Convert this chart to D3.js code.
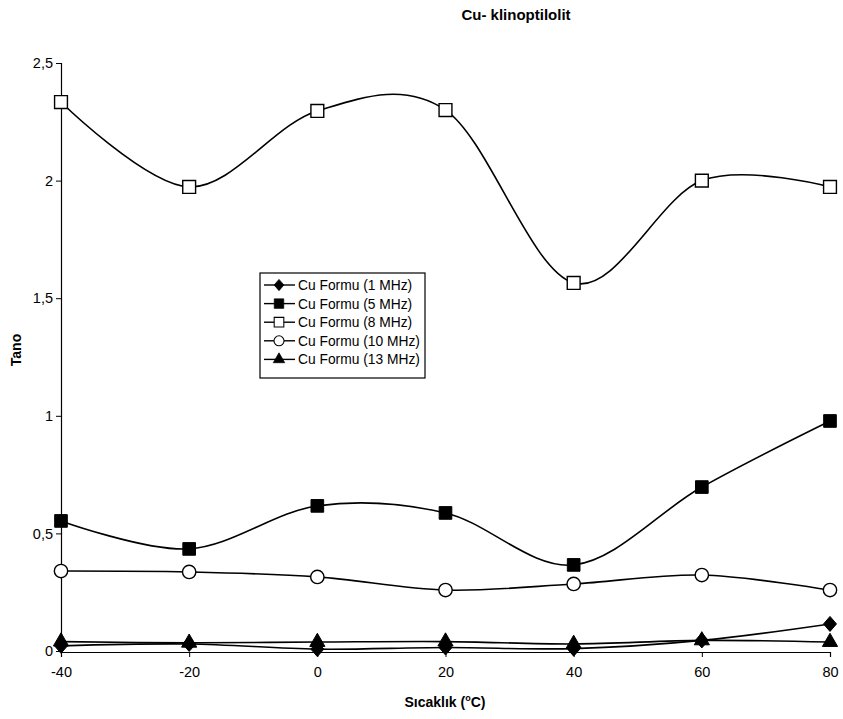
<!DOCTYPE html>
<html>
<head>
<meta charset="utf-8">
<script src="https://cdn.jsdelivr.net/npm/d3@7"></script>
<style>
  html, body { margin: 0; padding: 0; background: #fff; }
  svg { display: block; font-family: "Liberation Sans", Arial, sans-serif; }
</style>
</head>
<body>
<svg id="chart" width="843" height="719"></svg>
<script>
// Temperature steps (°C)
const temperatures = [-40, -20, 0, 20, 40, 60, 80];

// Tan δ values per measuring frequency
const f1MHz  = [0.022, 0.030, 0.008, 0.015, 0.010, 0.045, 0.115];
const f5MHz  = [0.553, 0.434, 0.617, 0.587, 0.366, 0.697, 0.978];
const f8MHz  = [2.334, 1.973, 2.296, 2.300, 1.565, 2.000, 1.973];
const f10MHz = [0.340, 0.336, 0.315, 0.259, 0.285, 0.323, 0.259];
const f13MHz = [0.040, 0.035, 0.038, 0.040, 0.030, 0.045, 0.038];

const seriesNames = ["Cu Formu (1 MHz)", "Cu Formu (5 MHz)", "Cu Formu (8 MHz)", "Cu Formu (10 MHz)", "Cu Formu (13 MHz)"];
const yTicks = [0, 0.5, 1, 1.5, 2, 2.5];
const xTicks = [-40, -20, 0, 20, 40, 60, 80];

const series = [
  { name: seriesNames[0], values: f1MHz,  symbol: "diamond" },
  { name: seriesNames[1], values: f5MHz,  symbol: "squareFilled" },
  { name: seriesNames[2], values: f8MHz,  symbol: "squareOpen" },
  { name: seriesNames[3], values: f10MHz, symbol: "circleOpen" },
  { name: seriesNames[4], values: f13MHz, symbol: "triangle" }
];

const FONT = "Liberation Sans, Arial, sans-serif";
const svg = d3.select("#chart");
const x = d3.scaleLinear().domain([-40, 80]).range([61, 830]);
const y = d3.scaleLinear().domain([0, 2.5]).range([651, 63]);

// Title
svg.append("text")
  .attr("x", 516).attr("y", 20)
  .attr("text-anchor", "middle")
  .attr("font-size", 15).attr("font-weight", "bold")
  .text("Cu- klinoptilolit");

// Axes
const yAxis = d3.axisLeft(y).tickValues(yTicks).tickSize(5).tickPadding(3)
  .tickFormat(d => String(d).replace(".", ","));
const gy = svg.append("g").attr("transform", `translate(${x(-40)},0)`).call(yAxis);
gy.select(".domain").attr("stroke", "#000").attr("stroke-width", 1.2);
gy.selectAll(".tick line").attr("stroke", "#000");
gy.selectAll(".tick text").attr("font-size", 14.5).attr("fill", "#000").attr("font-family", FONT);

const xAxis = d3.axisBottom(x).tickValues(xTicks).tickSize(5).tickPadding(10)
  .tickFormat(d => String(d));
const gx = svg.append("g").attr("transform", `translate(0,${y(0) + 1})`).call(xAxis);
gx.select(".domain").attr("stroke", "#000").attr("stroke-width", 1.2);
gx.selectAll(".tick line").attr("stroke", "#000");
gx.selectAll(".tick text").attr("font-size", 14.5).attr("fill", "#000").attr("font-family", FONT);

// Axis titles
const xt = svg.append("text")
  .attr("x", 445).attr("y", 707)
  .attr("text-anchor", "middle")
  .attr("font-size", 14).attr("font-weight", "bold");
xt.append("tspan").text("Sıcaklık (");
xt.append("tspan").attr("font-size", 9).attr("dy", -6).text("o");
xt.append("tspan").attr("dy", 6).text("C)");

svg.append("text")
  .attr("transform", "translate(21,350) rotate(-90)")
  .attr("text-anchor", "middle")
  .attr("font-size", 14).attr("font-weight", "bold")
  .text("Tano");

// Marker drawing
const diamondPath = "M0,-7.5L6.5,0L0,7.5L-6.5,0Z";
function drawMarker(g, kind, cx, cy, k = 1) {
  let d, fill;
  if (kind === "diamond") { d = diamondPath; fill = "#000"; }
  else if (kind === "squareFilled") { d = d3.symbol().type(d3.symbolSquare).size(160)(); fill = "#000"; }
  else if (kind === "squareOpen") { d = d3.symbol().type(d3.symbolSquare).size(165)(); fill = "#fff"; }
  else if (kind === "circleOpen") { d = d3.symbol().type(d3.symbolCircle).size(140)(); fill = "#fff"; }
  else { d = d3.symbol().type(d3.symbolTriangle).size(100)(); fill = "#000"; }
  g.append("path")
    .attr("d", d)
    .attr("transform", `translate(${cx},${cy}) scale(${k})`)
    .attr("fill", fill)
    .attr("stroke", "#000")
    .attr("stroke-width", kind === "squareOpen" || kind === "circleOpen" ? 1.4 : 1);
}

const line = d3.line()
  .x((d, i) => x(temperatures[i]))
  .y(d => y(d))
  .curve(d3.curveCatmullRom.alpha(0));

const plot = svg.append("g");
series.forEach(s => {
  plot.append("path")
    .attr("d", line(s.values))
    .attr("fill", "none")
    .attr("stroke", "#000")
    .attr("stroke-width", 1.6);
});
series.forEach(s => {
  const g = plot.append("g");
  s.values.forEach((v, i) => drawMarker(g, s.symbol, x(temperatures[i]), y(v)));
});

// Legend
const legend = svg.append("g");
legend.append("rect")
  .attr("x", 260).attr("y", 273).attr("width", 165).attr("height", 105)
  .attr("fill", "#fff").attr("stroke", "#000").attr("stroke-width", 1.2);
series.forEach((s, i) => {
  const ly = 285 + i * 18.6;
  legend.append("line")
    .attr("x1", 264).attr("x2", 295).attr("y1", ly).attr("y2", ly)
    .attr("stroke", "#000").attr("stroke-width", 1.4);
  drawMarker(legend.append("g"), s.symbol, 279, ly, 0.75);
  legend.append("text")
    .attr("x", 298).attr("y", ly + 5)
    .attr("font-size", 13.8)
    .text(s.name);
});
</script>
</body>
</html>
